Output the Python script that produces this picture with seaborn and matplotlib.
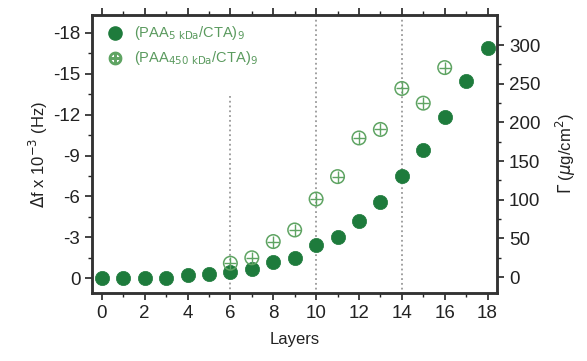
import matplotlib
matplotlib.use("Agg")
import matplotlib.pyplot as plt
from matplotlib.ticker import MultipleLocator
import seaborn as sns

# filled: frequency shift (left axis), open: adsorbed mass (right axis)
layers_5k = [0, 1, 2, 3, 4, 5, 6, 7, 8, 9, 10, 11, 12, 13, 14, 15, 16, 17, 18]
df_5k = [0, 0, 0, 0, -0.2, -0.3, -0.45, -0.7, -1.2, -1.5, -2.4, -3.0, -4.2,
         -5.6, -7.5, -9.4, -11.8, -14.5, -16.9]
layers_450k = [6, 7, 8, 9, 10, 11, 12, 13, 14, 15, 16]
gamma_450k = [18, 25, 46, 61, 101, 130, 180, 191, 244, 225, 271]
guide_x = [6, 10, 14]

dark = "#1e7b3c"
light = "#5fa463"

sns.set_style("ticks")
plt.rcParams["font.family"] = ["Liberation Sans", "DejaVu Sans"]

fig = plt.figure(figsize=(5.87, 3.61), dpi=100)
ax = fig.add_axes([0.157, 0.188, 0.69, 0.77])
ax2 = ax.twinx()

sns.scatterplot(x=layers_5k, y=df_5k, ax=ax, s=105, color=dark,
                edgecolor=dark, linewidth=0.5, zorder=3)
sns.scatterplot(x=layers_450k, y=gamma_450k, ax=ax2, s=95, marker="o",
                facecolor="none", edgecolor=light, linewidth=1.1, zorder=3)
sns.scatterplot(x=layers_450k, y=gamma_450k, ax=ax2, s=80, marker="+",
                color=light, linewidth=1.0, zorder=3)

ax.vlines(guide_x[0], -13.4, 1.1, color="#999999", linestyle=":", linewidth=1.3)
ax.vlines(guide_x[1:], -19.3, 1.1, color="#999999", linestyle=":", linewidth=1.3)

ax.set_xlim(-0.45, 18.45)
ax.set_ylim(1.1, -19.3)
ax2.set_ylim(-20.7, 338.8)

ax.xaxis.set_major_locator(MultipleLocator(2))
ax.xaxis.set_minor_locator(MultipleLocator(1))
ax.yaxis.set_major_locator(MultipleLocator(3))
ax.yaxis.set_minor_locator(MultipleLocator(1.5))
ax2.yaxis.set_major_locator(MultipleLocator(50))
ax2.yaxis.set_minor_locator(MultipleLocator(25))
ax.set_yticks([0, -3, -6, -9, -12, -15, -18])
ax.set_yticklabels(["0", "-3", "-6", "-9", "-12", "-15", "-18"])
ax2.set_yticks([0, 50, 100, 150, 200, 250, 300])

ax.tick_params(axis="both", which="major", labelsize=13.5, length=5, width=1.2,
               direction="out", colors="#222222")
ax.tick_params(axis="both", which="minor", length=3, width=1, direction="out",
               colors="#222222")
ax.tick_params(axis="x", which="both", top=True)
ax2.tick_params(axis="y", which="major", labelsize=13.5, length=5, width=1.2,
                direction="out", colors="#222222")
ax2.tick_params(axis="y", which="minor", length=3, width=1, direction="out",
                colors="#222222")
for a in (ax, ax2):
    for sp in a.spines.values():
        sp.set_visible(True)
        sp.set_linewidth(1.8)
        sp.set_color("#333333")

ax.set_xlabel("Layers", fontsize=12, color="#222222", labelpad=7)
ax.set_ylabel(r"$\Delta$f x 10$^{-3}$ (Hz)", fontsize=12, color="#222222",
              labelpad=2)
ax2.set_ylabel(r"$\Gamma$ ($\mu$g/cm$^2$)", fontsize=12, color="#222222",
               labelpad=10)

h1 = ax.scatter([], [], s=90, color=dark)
h2 = ax.scatter([], [], s=80, marker="$\\oplus$", color=light)
leg = ax.legend([h1, h2],
                [r"(PAA$_{\mathrm{5\ kDa}}$/CTA)$_9$",
                 r"(PAA$_{\mathrm{450\ kDa}}$/CTA)$_9$"],
                loc="upper left", frameon=False, fontsize=10.5,
                handletextpad=0.3, borderaxespad=0.2, labelspacing=0.5,
                bbox_to_anchor=(0.0, 1.0))
for t in leg.get_texts():
    t.set_color("#5a9a5e")

fig.savefig("out.png", dpi=100)
